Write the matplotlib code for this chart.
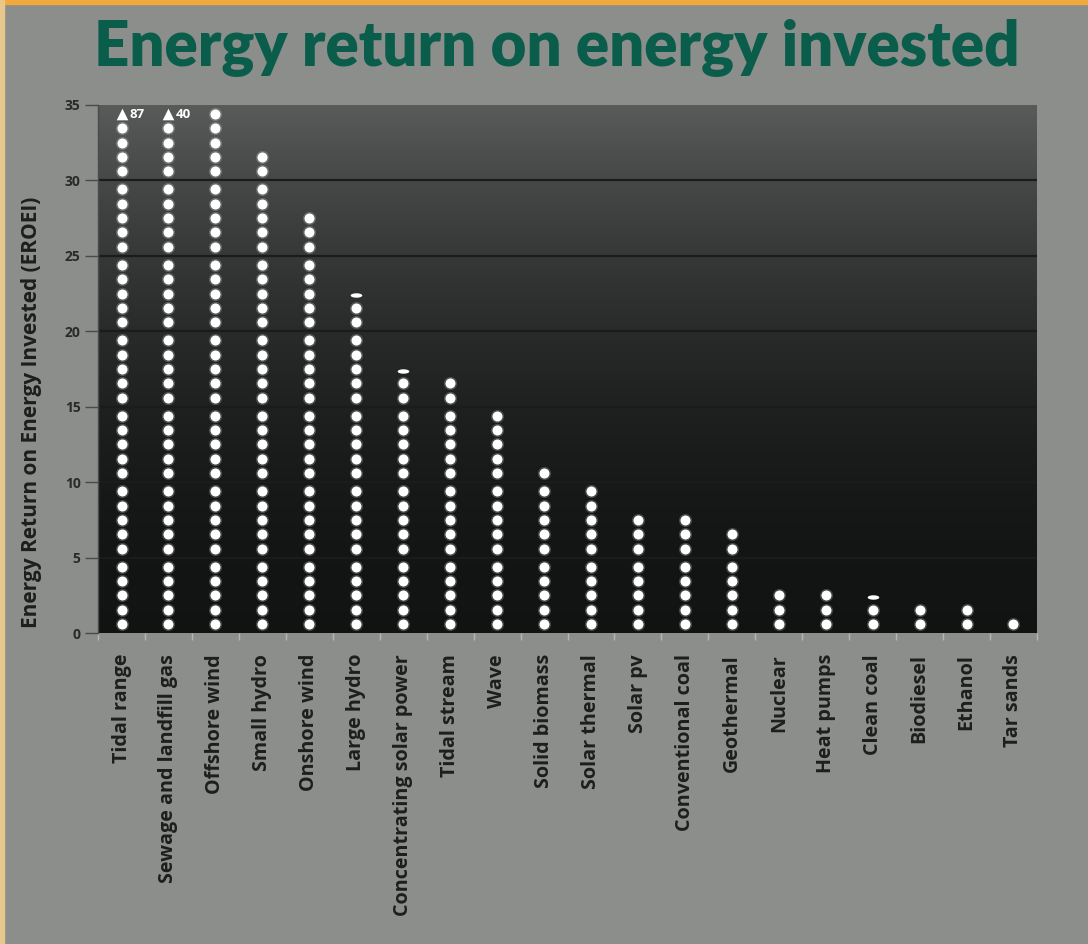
import numpy as np
import matplotlib
matplotlib.use("Agg")
import matplotlib.pyplot as plt
from matplotlib.path import Path
from matplotlib.patches import Rectangle

# data
sources = ["Tidal range", "Sewage and landfill gas", "Offshore wind", "Small hydro",
           "Onshore wind", "Large hydro", "Concentrating solar power", "Tidal stream",
           "Wave", "Solid biomass", "Solar thermal", "Solar pv", "Conventional coal",
           "Geothermal", "Nuclear", "Heat pumps", "Clean coal", "Biodiesel", "Ethanol",
           "Tar sands"]
eroei = [87, 40, 35, 32, 28, 22.5, 17.5, 17, 15, 11, 10, 8, 8, 7, 3, 3, 2.5, 2, 2, 1]
y_ticks = [0, 5, 10, 15, 20, 25, 30, 35]
y_max = 35

bg = "#8b8e8b"
title_green = "#0b5d4b"
text_dark = "#1e1e1e"


def slot(i):
    # dots sit five to a band, with a small gap at every gridline
    return 5 * (i // 5) + 0.6 + 0.95 * (i % 5)


# flattened dot for a part unit
t = np.linspace(0, 2 * np.pi, 40)
flat_dot = Path(np.column_stack([np.cos(t), 0.38 * np.sin(t)]))

fig = plt.figure(figsize=(10.88, 9.44), dpi=100, facecolor=bg)

# orange frame on top and left
fig.patches.append(Rectangle((0, 0.9955), 1, 0.0045, transform=fig.transFigure,
                             color="#f2a93b", zorder=0))
fig.patches.append(Rectangle((0, 0), 0.0035, 1, transform=fig.transFigure,
                             color="#e8c88a", zorder=0))

ax = fig.add_axes([0.0901, 0.3294, 0.863, 0.5594])
ax.set_facecolor("#141414")

# background gradient, grey at the top to black lower down
frac = np.linspace(1, 0, 256)
shade = 0.07 + 0.28 * frac ** 2
grad = np.clip(np.stack([shade, shade + 0.008, shade + 0.004], axis=-1), 0, 1)
grad = grad.reshape(256, 1, 3)
ax.imshow(grad, aspect="auto", extent=[-0.5, len(sources) - 0.5, 0, y_max],
          origin="upper", zorder=0, interpolation="bilinear")

for yv in y_ticks[1:-1]:
    ax.axhline(yv, color="#1b1b1b", lw=1.6, zorder=1)

for k, v in enumerate(eroei):
    capped = v > y_max
    n_full = y_max - 1 if capped else int(np.floor(v))
    ys = [slot(i) for i in range(n_full)]
    ax.scatter([k] * n_full, ys, s=90, color="white", alpha=0.2, lw=0, zorder=2)
    ax.scatter([k] * n_full, ys, s=52, color="white", lw=0, zorder=3)
    if capped:
        ax.scatter([k], [slot(n_full)], s=70, marker="^", color="white", lw=0, zorder=3)
        ax.text(k + 0.16, slot(n_full), str(v), color="white", fontsize=9.5,
                fontweight="bold", va="center", ha="left", family="Open Sans", zorder=3)
    elif v - n_full > 0:
        ax.scatter([k], [slot(n_full) - 0.1], s=70, marker=flat_dot, color="white",
                   lw=0, zorder=3)

ax.set_xlim(-0.5, len(sources) - 0.5)
ax.set_ylim(0, y_max)

ax.set_yticks(y_ticks)
ax.set_yticklabels([str(y) for y in y_ticks], family="Open Sans", fontweight="bold",
                   fontsize=10, color="#2a2a2a")
ax.tick_params(axis="y", length=9.5, width=1, color="#4a4a4a", pad=3)

ax.set_xticks(np.arange(len(sources)))
ax.set_xticklabels(sources, rotation=90, family="Open Sans", fontweight="bold",
                   fontsize=14.2, color=text_dark, va="top")
ax.tick_params(axis="x", length=0, pad=15)
ax.set_xticks(np.arange(len(sources) + 1) - 0.5, minor=True)
ax.tick_params(axis="x", which="minor", length=5, width=1, color="#b5b7b4")

for side in ["top", "right", "bottom"]:
    ax.spines[side].set_visible(False)
ax.spines["left"].set_color("#4a4a4a")
ax.spines["left"].set_linewidth(1)

fig.text(0.029, 0.5636, "Energy Return on Energy Invested (EROEI)", rotation=90,
         ha="center", va="center", family="Open Sans", fontweight="bold",
         fontsize=15, color=text_dark)

fig.text(0.512, 0.949, "Energy return on energy invested", ha="center", va="center",
         family="Lato", fontweight="heavy", fontsize=44.5, color=title_green)

fig.savefig("out.png", dpi=100, facecolor=bg)
